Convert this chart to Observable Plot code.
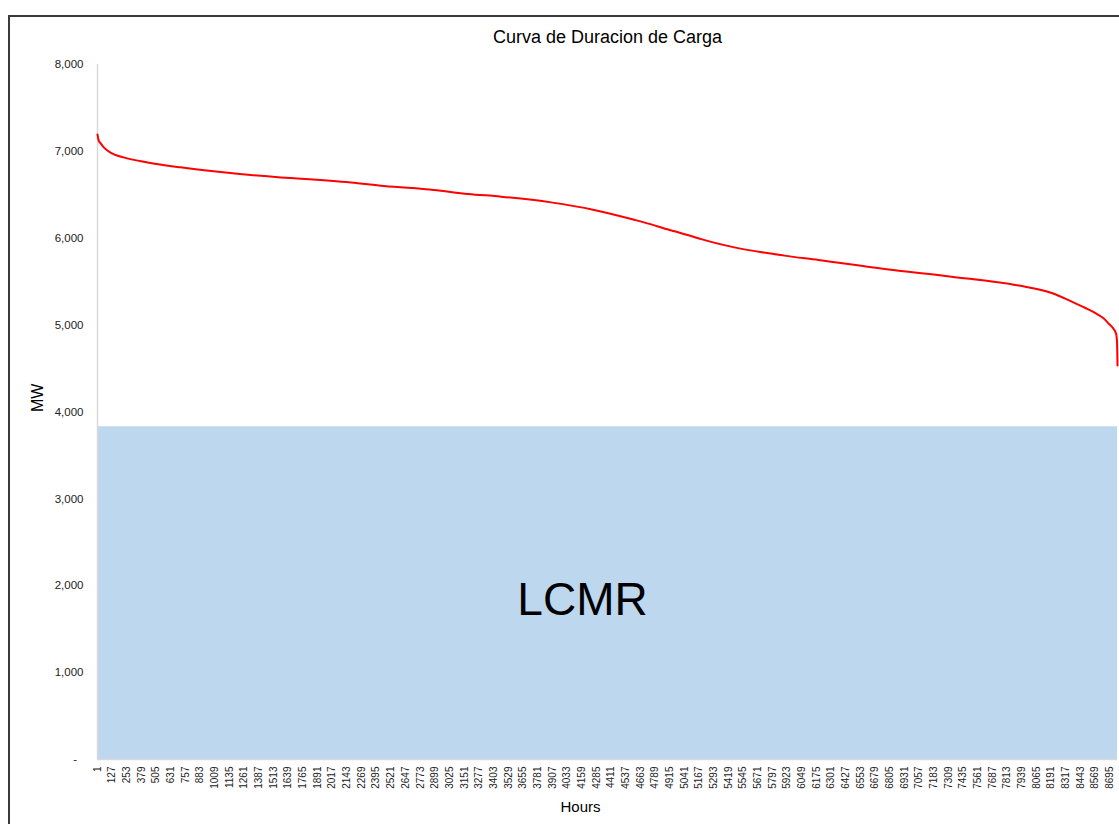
<!DOCTYPE html>
<html>
<head>
<meta charset="utf-8">
<script src="https://cdn.jsdelivr.net/npm/d3@7"></script>
<script src="https://cdn.jsdelivr.net/npm/@observablehq/plot@0.6"></script>
<style>
  html, body { margin: 0; padding: 0; background: #fff; overflow: hidden; }
  #wrap { position: relative; width: 1119px; height: 824px; overflow: hidden; }
  #frame { position: absolute; left: 8px; top: 15px; width: 1300px; height: 1000px; border: 2px solid #3a3a3a; box-sizing: border-box; pointer-events: none; }
  #chart { position: absolute; left: 0; top: 0; }
</style>
</head>
<body>
<div id="wrap"><div id="chart"></div><div id="frame"></div></div>
<script>
// Load duration curve (hours sorted by load, MW)
const hours = [1, 10, 30, 55, 113, 225, 431, 715, 998, 1575, 1747, 2177, 2460, 2890, 3183, 3466, 3896, 4266, 4610, 4756, 4902, 5126, 5186, 5470, 5900, 6192, 6760, 7335, 7912, 8195, 8367, 8480, 8582, 8640, 8690, 8725, 8748, 8756, 8760];
const mw =    [7195, 7130, 7090, 7046, 6985, 6931, 6873, 6816, 6770, 6700, 6686, 6643, 6602, 6556, 6510, 6479, 6413, 6326, 6213, 6160, 6100, 6015, 5990, 5895, 5800, 5750, 5646, 5558, 5455, 5370, 5270, 5200, 5130, 5080, 5010, 4960, 4900, 4800, 4534];

// LCMR block
const lcmrHours = [1, 8760];
const lcmrMW = [3830, 3830];
const lcmrLabel = ["LCMR"];

// Axis ticks
const hourTicks = d3.range(1, 8760, 126);
const mwTicks = [0, 1000, 2000, 3000, 4000, 5000, 6000, 7000, 8000];

const title = ["Curva de Duracion de Carga"];
const yLabel = ["MW"];
const xLabel = ["Hours"];

const curve = hours.map((h, i) => ({hour: h, mw: mw[i]}));
const lcmr = lcmrHours.map((h, i) => ({hour: h, mw: lcmrMW[i]}));

const fmt = d3.format(",");

const chart = Plot.plot({
  width: 1119,
  height: 824,
  marginLeft: 97,
  marginRight: 2,
  marginTop: 64,
  marginBottom: 65,
  style: {fontFamily: "'Liberation Sans', Arial, sans-serif", color: "#222", background: "transparent"},
  x: {domain: [1, 8760], ticks: hourTicks, tickFormat: d => String(d), tickRotate: -90, tickSize: 0, tickPadding: 7, label: null},
  y: {domain: [0, 8000], ticks: mwTicks, tickFormat: d => d === 0 ? "-\u00a0\u00a0" : fmt(d), tickSize: 0, tickPadding: 14, label: null},
  marks: [
    Plot.areaY(lcmr, {x: "hour", y: "mw", fill: "#bdd7ee"}),
    Plot.ruleX([1], {stroke: "#d9d9d9", strokeWidth: 1.5}),
    Plot.ruleY([0], {stroke: "#d9d9d9", strokeWidth: 1.5}),
    Plot.line(curve, {x: "hour", y: "mw", stroke: "#ff0000", strokeWidth: 2, curve: "monotone-x"}),
    Plot.text(lcmrLabel, {text: d => d, frameAnchor: "middle", lineAnchor: "middle", dx: -25, dy: 188, fontSize: 46, fill: "#000"}),
    Plot.text(title, {text: d => d, frameAnchor: "top", lineAnchor: "middle", dy: -27, fontSize: 18, fill: "#000"}),
    Plot.text(yLabel, {text: d => d, frameAnchor: "left", lineAnchor: "middle", dx: -60, rotate: -90, fontSize: 16, fill: "#000"}),
    Plot.text(xLabel, {text: d => d, frameAnchor: "bottom", lineAnchor: "middle", dx: -27, dy: 48, fontSize: 15, fill: "#000"})
  ]
});

d3.select(chart).selectAll("g[aria-label='x-axis tick label'] text").style("font-size", "10px");
d3.select(chart).selectAll("g[aria-label='y-axis tick label'] text").style("font-size", "11.5px");
document.getElementById("chart").appendChild(chart);
</script>
</body>
</html>
